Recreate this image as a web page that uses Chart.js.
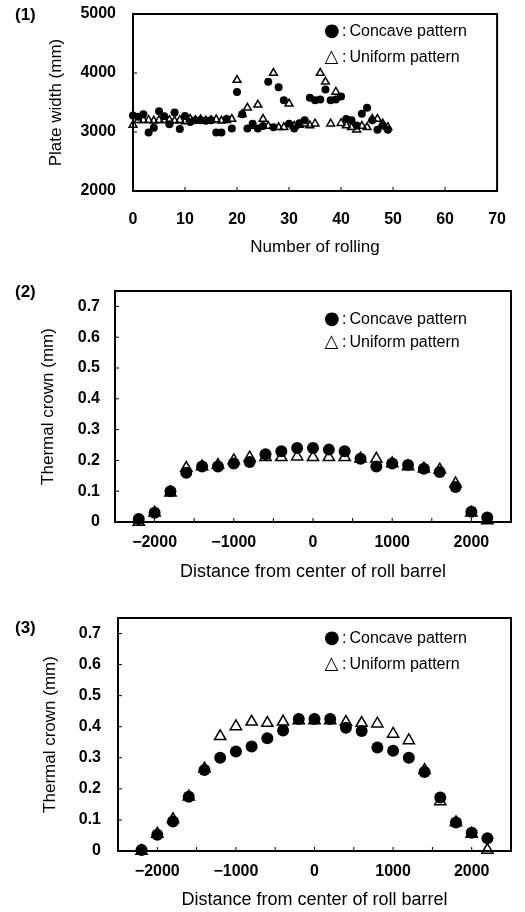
<!DOCTYPE html>
<html>
<head>
<meta charset="utf-8">
<script src="https://cdn.jsdelivr.net/npm/chart.js@4.4.0/dist/chart.umd.min.js"></script>
<style>
body { margin: 0; background: #fff; }
#page { position: relative; width: 525px; height: 912px; overflow: hidden; font-family: "Liberation Sans", Arial, sans-serif; color: #000; }
canvas { position: absolute; left: 0; }
.tag { position: absolute; left: 15px; font-size: 17px; font-weight: bold; line-height: 20px; }
.key { position: absolute; left: 324px; font-size: 16px; white-space: nowrap; }
.key .sym { display: inline-block; width: 15px; text-align: center; font-family: "DejaVu Sans", sans-serif; font-size: 18px; }
.key .col { margin: 0 3px 0 3px; }
</style>
</head>
<body>
<div id="page">
  <canvas id="c1" width="525" height="265" style="top:0px"></canvas>
  <canvas id="c2" width="525" height="340" style="top:265px"></canvas>
  <canvas id="c3" width="525" height="307" style="top:605px"></canvas>

  <div class="tag" style="top:5px">(1)</div>
  <div class="tag" style="top:282px">(2)</div>
  <div class="tag" style="top:618px">(3)</div>

  <div class="key" style="top:17px; line-height:25px"><span class="sym">●</span><span class="col">:</span>Concave pattern<br><span class="sym">△</span><span class="col">:</span>Uniform pattern</div>
  <div class="key" style="top:307px; line-height:22px"><span class="sym">●</span><span class="col">:</span>Concave pattern<br><span class="sym">△</span><span class="col">:</span>Uniform pattern</div>
  <div class="key" style="top:624px; line-height:25px"><span class="sym">●</span><span class="col">:</span>Concave pattern<br><span class="sym">△</span><span class="col">:</span>Uniform pattern</div>
</div>

<script>
// (1) plate width per rolling number
const rollNo = [0, 1, 2, 3, 4, 5, 6, 7, 8, 9, 10, 11, 12, 13, 14, 15, 16, 17, 18, 19,
    20, 21, 22, 23, 24, 25, 26, 27, 28, 29, 30, 31, 32, 33, 34, 35, 36, 37, 38, 39,
    40, 41, 42, 43, 44, 45, 46, 47, 48, 49];
const widthConcave = [3280, 3260, 3300, 2990, 3070, 3350, 3265, 3130, 3330, 3050,
    3270, 3170, 3200, 3200, 3190, 3200, 2990, 2990, 3220, 3060,
    3680, 3300, 3060, 3140, 3060, 3100, 3850, 3080, 3760, 3540,
    3140, 3060, 3150, 3200, 3580, 3540, 3550, 3720, 3540, 3550,
    3600, 3220, 3200, 3110, 3310, 3410, 3200, 3040, 3110, 3040];
const widthUniform = [3120, 3200, 3200, 3200, 3190, 3200, 3200, 3200, 3190, 3200,
    3180, 3220, 3200, 3210, 3190, 3200, 3210, 3190, 3200, 3220,
    3880, 3300, 3410, 3100, 3460, 3220, 3100, 4000, 3080, 3080,
    3480, 3100, 3120, 3140, 3110, 3140, 4000, 3850, 3140, 3680,
    3150, 3110, 3080, 3040, 3100, 3080, 3220, 3220, 3140, 3080];
const rollTicks = [0, 10, 20, 30, 40, 50, 60, 70];
const widthTicks = [2000, 3000, 4000, 5000];

// (2), (3) thermal crown along the roll barrel
const distance = [-2200, -2000, -1800, -1600, -1400, -1200, -1000, -800, -600, -400, -200, 0,
    200, 400, 600, 800, 1000, 1200, 1400, 1600, 1800, 2000, 2200];
const crown2Concave = [0.01, 0.03, 0.10, 0.16, 0.18, 0.18, 0.19, 0.195, 0.22, 0.23, 0.24, 0.24,
    0.235, 0.23, 0.205, 0.18, 0.19, 0.185, 0.173, 0.162, 0.114, 0.033, 0.015];
const crown2Uniform = [0.0, 0.03, 0.095, 0.175, 0.18, 0.185, 0.20, 0.209, 0.21, 0.21, 0.212, 0.21,
    0.21, 0.21, 0.205, 0.205, 0.19, 0.18, 0.173, 0.17, 0.125, 0.03, 0.005];
const crown3Concave = [0.003, 0.052, 0.095, 0.175, 0.261, 0.30, 0.32, 0.336, 0.363, 0.388, 0.425, 0.425,
    0.425, 0.397, 0.386, 0.333, 0.323, 0.30, 0.254, 0.172, 0.092, 0.059, 0.041];
const crown3Uniform = [0.0, 0.055, 0.102, 0.175, 0.265, 0.369, 0.401, 0.416, 0.412, 0.416, 0.42, 0.42,
    0.42, 0.415, 0.412, 0.41, 0.377, 0.356, 0.26, 0.159, 0.092, 0.055, 0.003];
const distTicks = [-2000, -1500, -1000, -500, 0, 500, 1000, 1500, 2000];
const crownTicks = [0, 0.1, 0.2, 0.3, 0.4, 0.5, 0.6, 0.7];

Chart.defaults.font.family = '"Liberation Sans", Arial, sans-serif';
Chart.defaults.color = '#000';

// box around the plot plus small inward tick marks
const frame = {
    id: 'frame',
    beforeDatasetsDraw(chart) {
        const { ctx, chartArea: a, scales } = chart;
        ctx.save();
        ctx.strokeStyle = '#000';
        ctx.lineWidth = 2;
        ctx.strokeRect(a.left, a.top, a.right - a.left, a.bottom - a.top);
        ctx.lineWidth = 1;
        ctx.beginPath();
        scales.x.ticks.forEach(t => {
            const px = scales.x.getPixelForValue(t.value);
            ctx.moveTo(px, a.bottom);
            ctx.lineTo(px, a.bottom - 4);
        });
        scales.y.ticks.forEach(t => {
            const py = scales.y.getPixelForValue(t.value);
            ctx.moveTo(a.left, py);
            ctx.lineTo(a.left + 4, py);
        });
        ctx.stroke();
        ctx.restore();
    }
};

const minus = v => String(v).replace('-', '\u2212');

function makePanel(id, o) {
    return new Chart(document.getElementById(id), {
        type: 'scatter',
        data: {
            datasets: [{
                label: 'Concave pattern',
                data: o.x.map((v, i) => ({ x: v, y: o.concave[i] })),
                pointStyle: 'circle',
                pointRadius: o.r,
                backgroundColor: '#000',
                borderColor: '#000',
                borderWidth: 0,
                clip: false
            }, {
                label: 'Uniform pattern',
                data: o.x.map((v, i) => ({ x: v, y: o.uniform[i] })),
                pointStyle: 'triangle',
                pointRadius: o.tr,
                backgroundColor: 'rgba(0,0,0,0)',
                borderColor: '#000',
                borderWidth: 1.5,
                clip: false
            }]
        },
        options: {
            responsive: false,
            animation: false,
            events: [],
            layout: { padding: o.pad },
            plugins: { legend: { display: false }, tooltip: { enabled: false } },
            scales: {
                x: {
                    type: 'linear', min: o.xMin, max: o.xMax,
                    grid: { display: false, drawTicks: false },
                    border: { display: false },
                    afterBuildTicks: s => { s.ticks = o.xTicks.map(v => ({ value: v })); },
                    afterFit: s => { s.height = o.xH; },
                    ticks: { padding: o.xPad, autoSkip: false, maxRotation: 0, font: { size: 16, weight: 'bold' }, callback: o.xFmt },
                    title: { display: true, text: o.xTitle, padding: 0, font: { size: o.xTitleSize } }
                },
                y: {
                    type: 'linear', min: o.yMin, max: o.yMax,
                    // label gap comes from tickLength so it does not push the plot top down
                    grid: { display: false, drawTicks: true, tickLength: o.yPad },
                    border: { display: false },
                    afterBuildTicks: s => { s.ticks = o.yTicks.map(v => ({ value: v })); },
                    afterFit: s => { s.width = o.yW; },
                    ticks: { padding: 0, autoSkip: false, font: { size: 16, weight: 'bold' }, callback: o.yFmt },
                    title: { display: true, text: o.yTitle, padding: 0, font: { size: 17 } }
                }
            }
        },
        plugins: [frame]
    });
}

makePanel('c1', {
    x: rollNo, concave: widthConcave, uniform: widthUniform, r: 4, tr: 4.5,
    xMin: 0, xMax: 70, xTicks: rollTicks, xFmt: v => String(v),
    yMin: 2000, yMax: 5000, yTicks: widthTicks, yFmt: v => String(v),
    xTitle: 'Number of rolling', xTitleSize: 17, yTitle: 'Plate width (mm)',
    pad: { top: 14, right: 26, left: 46, bottom: 7 }, xH: 67, yW: 87, xPad: 19, yPad: 17
});

makePanel('c2', {
    x: distance, concave: crown2Concave, uniform: crown2Uniform, r: 6, tr: 6.5,
    xMin: -2500, xMax: 2500, xTicks: distTicks, xFmt: v => (v % 1000 === 0 ? minus(v) : ''),
    yMin: 0, yMax: 0.75, yTicks: crownTicks, yFmt: v => (v === 0 ? '0' : v.toFixed(1)),
    xTitle: 'Distance from center of roll barrel', xTitleSize: 18, yTitle: 'Thermal crown (mm)',
    pad: { top: 26, right: 14, left: 38, bottom: 22 }, xH: 61, yW: 77, xPad: 11, yPad: 15
});

makePanel('c3', {
    x: distance, concave: crown3Concave, uniform: crown3Uniform, r: 6, tr: 6.5,
    xMin: -2500, xMax: 2500, xTicks: distTicks, xFmt: v => (v % 1000 === 0 ? minus(v) : ''),
    yMin: 0, yMax: 0.75, yTicks: crownTicks, yFmt: v => (v === 0 ? '0' : v.toFixed(1)),
    xTitle: 'Distance from center of roll barrel', xTitleSize: 18, yTitle: 'Thermal crown (mm)',
    pad: { top: 13, right: 14, left: 40, bottom: 1 }, xH: 60, yW: 78, xPad: 11, yPad: 17
});
</script>
</body>
</html>
